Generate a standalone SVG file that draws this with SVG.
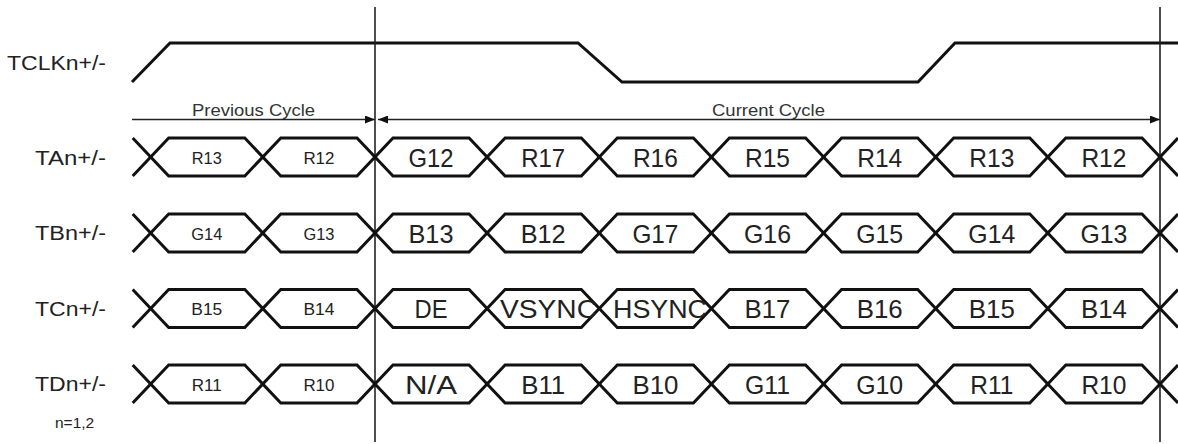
<svg xmlns="http://www.w3.org/2000/svg" xmlns:xlink="http://www.w3.org/1999/xlink" width="1178" height="444" viewBox="0 0 1178 444">
<style>
.sig{fill:none;stroke:#111;stroke-width:3;stroke-linejoin:miter}
.vl{stroke:#222;stroke-width:1.6;fill:none}
.ar{stroke:#222;stroke-width:1.3;fill:none}
.lbl{font-family:"Liberation Sans",Arial,sans-serif;font-size:20px;fill:#222}
.big{font-family:"Liberation Sans",Arial,sans-serif;font-size:26px;fill:#222;text-anchor:middle}
.sm{font-family:"Liberation Sans",Arial,sans-serif;font-size:17px;fill:#222;text-anchor:middle}
.cyc{font-family:"Liberation Sans",Arial,sans-serif;font-size:16.5px;fill:#333}
</style>
<defs>
<marker id="ah" viewBox="0 0 10 8" refX="10" refY="4" markerWidth="10" markerHeight="8" markerUnits="userSpaceOnUse" orient="auto-start-reverse">
<path d="M0,0 L10,4 L0,8 z" fill="#111"/>
</marker>
<g id="bus">
<path class="sig" d="M132.7,-19 L168.7,19 L244.8,19 L280.8,-19 L357,-19 L393,19 L469.1,19 L505.1,-19 L581.3,-19 L617.3,19 L693.4,19 L729.4,-19 L805.6,-19 L841.6,19 L917.7,19 L953.7,-19 L1029.8,-19 L1065.8,19 L1142,19 L1178,-19"/>
<path class="sig" d="M132.7,19 L168.7,-19 L244.8,-19 L280.8,19 L357,19 L393,-19 L469.1,-19 L505.1,19 L581.3,19 L617.3,-19 L693.4,-19 L729.4,19 L805.6,19 L841.6,-19 L917.7,-19 L953.7,19 L1029.8,19 L1065.8,-19 L1142,-19 L1178,19"/>
</g>
</defs>
<rect width="1178" height="444" fill="#fff"/>

<g id="tclk">
<text class="lbl" x="7" y="69.5" textLength="99" lengthAdjust="spacingAndGlyphs">TCLKn+/-</text>
<polyline class="sig" points="132,82 170,43 578,43 622,82 918,82 955,43 1178,43"/>
</g>

<g id="connectors">
<line class="vl" x1="375" y1="7" x2="375" y2="442"/>
<line class="vl" x1="1160" y1="7" x2="1160" y2="442"/>
<line class="ar" x1="132" y1="119.5" x2="375" y2="119.5" marker-end="url(#ah)"/>
<line class="ar" x1="378" y1="119.5" x2="1160" y2="119.5" marker-start="url(#ah)" marker-end="url(#ah)"/>
</g>

<g id="cycles">
<text class="cyc" x="192" y="116" textLength="123" lengthAdjust="spacingAndGlyphs">Previous Cycle</text>
<text class="cyc" x="712" y="116" textLength="113" lengthAdjust="spacingAndGlyphs">Current Cycle</text>
</g>

<g id="ta">
<text class="lbl" x="35" y="164.5" textLength="71" lengthAdjust="spacingAndGlyphs">TAn+/-</text>
<use xlink:href="#bus" href="#bus" transform="translate(0,157)"/>
<text class="sm" x="206.8" y="163.5" textLength="30" lengthAdjust="spacingAndGlyphs">R13</text>
<text class="sm" x="318.9" y="163.5" textLength="31" lengthAdjust="spacingAndGlyphs">R12</text>
<text class="big" x="431" y="166.5" textLength="45" lengthAdjust="spacingAndGlyphs">G12</text>
<text class="big" x="543.2" y="166.5" textLength="44" lengthAdjust="spacingAndGlyphs">R17</text>
<text class="big" x="655.4" y="166.5" textLength="45" lengthAdjust="spacingAndGlyphs">R16</text>
<text class="big" x="767.5" y="166.5" textLength="45" lengthAdjust="spacingAndGlyphs">R15</text>
<text class="big" x="879.7" y="166.5" textLength="45" lengthAdjust="spacingAndGlyphs">R14</text>
<text class="big" x="991.8" y="166.5" textLength="45" lengthAdjust="spacingAndGlyphs">R13</text>
<text class="big" x="1103.9" y="166.5" textLength="45" lengthAdjust="spacingAndGlyphs">R12</text>
</g>

<g id="tb">
<text class="lbl" x="35" y="240" textLength="71" lengthAdjust="spacingAndGlyphs">TBn+/-</text>
<use xlink:href="#bus" href="#bus" transform="translate(0,233)"/>
<text class="sm" x="206.8" y="239.5" textLength="31" lengthAdjust="spacingAndGlyphs">G14</text>
<text class="sm" x="318.9" y="239.5" textLength="31" lengthAdjust="spacingAndGlyphs">G13</text>
<text class="big" x="431" y="242.5" textLength="45" lengthAdjust="spacingAndGlyphs">B13</text>
<text class="big" x="543.2" y="242.5" textLength="45" lengthAdjust="spacingAndGlyphs">B12</text>
<text class="big" x="655.4" y="242.5" textLength="46" lengthAdjust="spacingAndGlyphs">G17</text>
<text class="big" x="767.5" y="242.5" textLength="47" lengthAdjust="spacingAndGlyphs">G16</text>
<text class="big" x="879.7" y="242.5" textLength="47" lengthAdjust="spacingAndGlyphs">G15</text>
<text class="big" x="991.8" y="242.5" textLength="47" lengthAdjust="spacingAndGlyphs">G14</text>
<text class="big" x="1103.9" y="242.5" textLength="47" lengthAdjust="spacingAndGlyphs">G13</text>
</g>

<g id="tc">
<text class="lbl" x="35" y="315.5" textLength="71" lengthAdjust="spacingAndGlyphs">TCn+/-</text>
<use xlink:href="#bus" href="#bus" transform="translate(0,308.5)"/>
<text class="sm" x="206.8" y="315" textLength="31" lengthAdjust="spacingAndGlyphs">B15</text>
<text class="sm" x="318.9" y="315" textLength="31" lengthAdjust="spacingAndGlyphs">B14</text>
<text class="big" x="431" y="318" textLength="33" lengthAdjust="spacingAndGlyphs">DE</text>
<text class="big" x="548.5" y="318" textLength="97" lengthAdjust="spacingAndGlyphs">VSYNC</text>
<text class="big" x="660" y="318" textLength="94" lengthAdjust="spacingAndGlyphs">HSYNC</text>
<text class="big" x="767.5" y="318" textLength="46" lengthAdjust="spacingAndGlyphs">B17</text>
<text class="big" x="879.7" y="318" textLength="46" lengthAdjust="spacingAndGlyphs">B16</text>
<text class="big" x="991.8" y="318" textLength="46" lengthAdjust="spacingAndGlyphs">B15</text>
<text class="big" x="1103.9" y="318" textLength="46" lengthAdjust="spacingAndGlyphs">B14</text>
</g>

<g id="td">
<text class="lbl" x="35" y="391" textLength="71" lengthAdjust="spacingAndGlyphs">TDn+/-</text>
<use xlink:href="#bus" href="#bus" transform="translate(0,384)"/>
<text class="sm" x="206.8" y="390.5" textLength="30" lengthAdjust="spacingAndGlyphs">R11</text>
<text class="sm" x="318.9" y="390.5" textLength="31" lengthAdjust="spacingAndGlyphs">R10</text>
<text class="big" x="431" y="393.5" textLength="52" lengthAdjust="spacingAndGlyphs">N/A</text>
<text class="big" x="543.2" y="393.5" textLength="44" lengthAdjust="spacingAndGlyphs">B11</text>
<text class="big" x="655.4" y="393.5" textLength="46" lengthAdjust="spacingAndGlyphs">B10</text>
<text class="big" x="767.5" y="393.5" textLength="45" lengthAdjust="spacingAndGlyphs">G11</text>
<text class="big" x="879.7" y="393.5" textLength="47" lengthAdjust="spacingAndGlyphs">G10</text>
<text class="big" x="991.8" y="393.5" textLength="43" lengthAdjust="spacingAndGlyphs">R11</text>
<text class="big" x="1103.9" y="393.5" textLength="45" lengthAdjust="spacingAndGlyphs">R10</text>
</g>

<g id="note">
<text class="cyc" x="55" y="428" style="font-size:15.5px;fill:#222">n=1,2</text>
</g>
</svg>
